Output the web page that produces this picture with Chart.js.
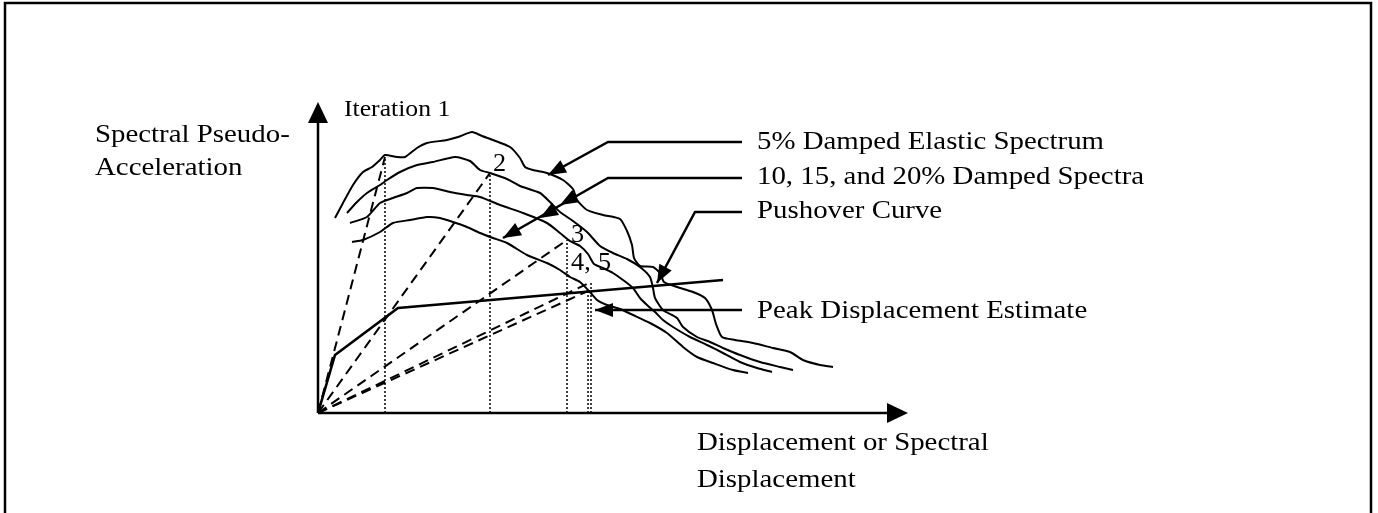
<!DOCTYPE html>
<html>
<head>
<meta charset="utf-8">
<script src="https://cdn.jsdelivr.net/npm/chart.js@4.4.0/dist/chart.umd.min.js"></script>
<style>
  html, body { margin: 0; padding: 0; background: #fff; }
  #wrap { position: relative; width: 1378px; height: 513px; }
</style>
</head>
<body>
<div id="wrap"><canvas id="graph" width="1378" height="513"></canvas></div>
<script>
// spectra as [displacement, pseudo-acceleration] pairs, origin at the axis corner
const spectrum5 = [[17,195],[25,210],[35,228],[45,241],[54,246],[62,253],[67,258],[79,256],[87,256],[99,265],[109,270],[129,273],[140,276],[154,281],[164,277],[175,273],[192,266],[202,255],[207,246],[215,243],[229,240],[245,233],[255,224],[259,213],[269,203],[285,198],[302,194],[309,182],[314,168],[316,155],[322,147],[335,146],[342,140],[346,131],[359,126],[375,121],[387,115],[394,103],[398,89],[404,76],[417,73],[435,70],[455,65],[472,61],[485,53],[502,48],[515,46]];
const spectrum10 = [[29,200],[39,211],[49,220],[62,228],[69,233],[82,241],[99,248],[115,251],[137,256],[152,252],[162,243],[172,240],[189,234],[202,227],[222,220],[232,211],[242,201],[255,192],[269,181],[282,167],[295,160],[309,154],[322,146],[332,136],[335,125],[337,115],[345,103],[359,95],[365,86],[379,76],[392,71],[405,65],[422,58],[442,51],[462,46],[475,43]];
const spectrum15 = [[32,190],[49,196],[62,210],[75,215],[89,220],[99,225],[115,225],[132,221],[149,218],[162,216],[182,208],[205,200],[229,190],[242,180],[252,172],[262,167],[270,159],[276,149],[285,145],[295,140],[305,133],[315,125],[322,115],[329,108],[337,101],[345,93],[355,86],[372,76],[389,68],[405,60],[422,51],[439,45],[454,41]];
const spectrum20 = [[34,171],[45,173],[62,181],[75,190],[92,193],[109,196],[122,195],[135,191],[149,186],[162,180],[175,175],[189,170],[209,158],[229,150],[242,143],[252,136],[262,131],[271,122],[279,113],[289,108],[302,104],[315,98],[332,90],[349,80],[365,66],[379,56],[395,50],[415,43],[430,40]];
const pushover = [[0,0],[17,58],[80,105],[405,133]];

// demand points reached at each iteration
const iterDisp = [67, 172, 249, 273, 270];
const iterAcc = [256, 240, 173, 131, 122];
const iterLabels = ['2', '3', '4,', '5'];

const labelTexts = ['5% Damped Elastic Spectrum', '10, 15, and 20% Damped Spectra', 'Pushover Curve', 'Peak Displacement Estimate'];
const yTitle = ['Spectral Pseudo-', 'Acceleration'];
const xTitle = ['Displacement or Spectral', 'Displacement'];
const iterTitle = 'Iteration 1';

// arrow targets: 5% curve, 10/15/20% curves, pushover, peak estimate
const arrowTips = [[230,238],[242,208],[222,195],[185,175],[339,130],[277,103]];

const toXY = arr => arr.map(p => ({ x: p[0], y: p[1] }));

const datasets = [];
[spectrum5, spectrum10, spectrum15, spectrum20].forEach(s => {
  datasets.push({ data: toXY(s), borderColor: '#000', borderWidth: 2, tension: 0.2 });
});
datasets.push({ data: toXY(pushover), borderColor: '#000', borderWidth: 2.6 });
iterDisp.forEach((d, i) => {
  datasets.push({ data: [{ x: 0, y: 0 }, { x: d, y: iterAcc[i] }], borderColor: '#000', borderWidth: 2, borderDash: [10, 6] });
  datasets.push({ data: [{ x: d, y: 0 }, { x: d, y: iterAcc[i] }], borderColor: '#000', borderWidth: 1.5, borderDash: [2, 2] });
});
datasets.forEach(ds => { ds.showLine = true; ds.pointRadius = 0; ds.clip = false; ds.fill = false; });

const SERIF = '"Liberation Serif", "Times New Roman", serif';

function text(ctx, str, x, y, size, stretch) {
  ctx.save();
  ctx.translate(x, y);
  ctx.scale(stretch, 1);
  ctx.font = size + 'px ' + SERIF;
  ctx.fillStyle = '#000';
  ctx.textBaseline = 'middle';
  ctx.fillText(str, 0, 0);
  ctx.restore();
}

function arrowHead(ctx, fromX, fromY, tipX, tipY, len, half) {
  const a = Math.atan2(tipY - fromY, tipX - fromX);
  ctx.beginPath();
  ctx.moveTo(tipX, tipY);
  ctx.lineTo(tipX - len * Math.cos(a) + half * Math.sin(a), tipY - len * Math.sin(a) - half * Math.cos(a));
  ctx.lineTo(tipX - len * Math.cos(a) - half * Math.sin(a), tipY - len * Math.sin(a) + half * Math.cos(a));
  ctx.closePath();
  ctx.fill();
}

const decorations = {
  id: 'decorations',
  afterDatasetsDraw(chart) {
    const { ctx, chartArea, scales } = chart;
    const px = v => scales.x.getPixelForValue(v);
    const py = v => scales.y.getPixelForValue(v);
    const ox = chartArea.left, oy = chartArea.bottom;

    ctx.save();
    ctx.strokeStyle = '#000';
    ctx.fillStyle = '#000';
    ctx.setLineDash([]);

    // frame
    ctx.lineWidth = 2.5;
    ctx.beginPath();
    ctx.moveTo(5, 513); ctx.lineTo(5, 3); ctx.lineTo(1371, 3); ctx.lineTo(1371, 513);
    ctx.stroke();

    // axes with arrowheads
    ctx.lineWidth = 2.5;
    ctx.beginPath();
    ctx.moveTo(ox, oy); ctx.lineTo(ox, chartArea.top + 10);
    ctx.moveTo(ox, oy); ctx.lineTo(chartArea.right - 10, oy);
    ctx.stroke();
    arrowHead(ctx, ox, oy, ox, chartArea.top, 21, 10);
    arrowHead(ctx, ox, oy, chartArea.right, oy, 21, 10);

    // leader lines to the curves
    ctx.lineWidth = 2.5;
    const leaders = [
      { y: 142, elbow: 608, tips: [0] },
      { y: 178, elbow: 608, tips: [1, 2, 3] },
      { y: 212, elbow: 695, tips: [4] },
      { y: 310, elbow: null, tips: [5] }
    ];
    leaders.forEach(l => {
      const last = arrowTips[l.tips[l.tips.length - 1]];
      const tx = px(last[0]), ty = l.elbow === null ? l.y : py(last[1]);
      ctx.beginPath();
      ctx.moveTo(742, l.y);
      if (l.elbow !== null) ctx.lineTo(l.elbow, l.y);
      ctx.lineTo(tx, ty);
      ctx.stroke();
      l.tips.forEach(k => {
        const t = arrowTips[k];
        const x = px(t[0]), y = l.elbow === null ? l.y : py(t[1]);
        const fx = l.elbow === null ? 742 : l.elbow;
        arrowHead(ctx, fx, l.y, x, y, 18, 7);
      });
    });

    // text
    const S = 1.11;
    labelTexts.forEach((s, i) => text(ctx, s, 757, [142, 177, 211, 311][i], 26, S));
    text(ctx, yTitle[0], 95, 135, 26, S);
    text(ctx, yTitle[1], 95, 168, 26, S);
    text(ctx, xTitle[0], 697, 443, 26, S);
    text(ctx, xTitle[1], 697, 480, 26, S);
    text(ctx, iterTitle, 344, 110, 24, 1.07);

    // iteration numbers next to their demand points
    text(ctx, iterLabels[0], px(iterDisp[1]) + 3, py(iterAcc[1]) - 9, 25, 1.05);
    text(ctx, iterLabels[1], px(iterDisp[2]) + 4, py(iterAcc[2]) - 5, 25, 1.05);
    text(ctx, iterLabels[2], px(iterDisp[2]) + 4, py(iterAcc[2]) + 23, 25, 1.05);
    text(ctx, iterLabels[3], px(iterDisp[2]) + 31, py(iterAcc[2]) + 23, 25, 1.05);
    ctx.restore();
  }
};

new Chart(document.getElementById('graph').getContext('2d'), {
  type: 'scatter',
  data: { datasets: datasets },
  options: {
    responsive: false,
    animation: false,
    layout: { padding: { left: 318, right: 470, top: 102, bottom: 100 } },
    scales: {
      x: { type: 'linear', min: 0, max: 590, display: false },
      y: { type: 'linear', min: 0, max: 311, display: false }
    },
    plugins: { legend: { display: false }, tooltip: { enabled: false } }
  },
  plugins: [decorations]
});
</script>
</body>
</html>
